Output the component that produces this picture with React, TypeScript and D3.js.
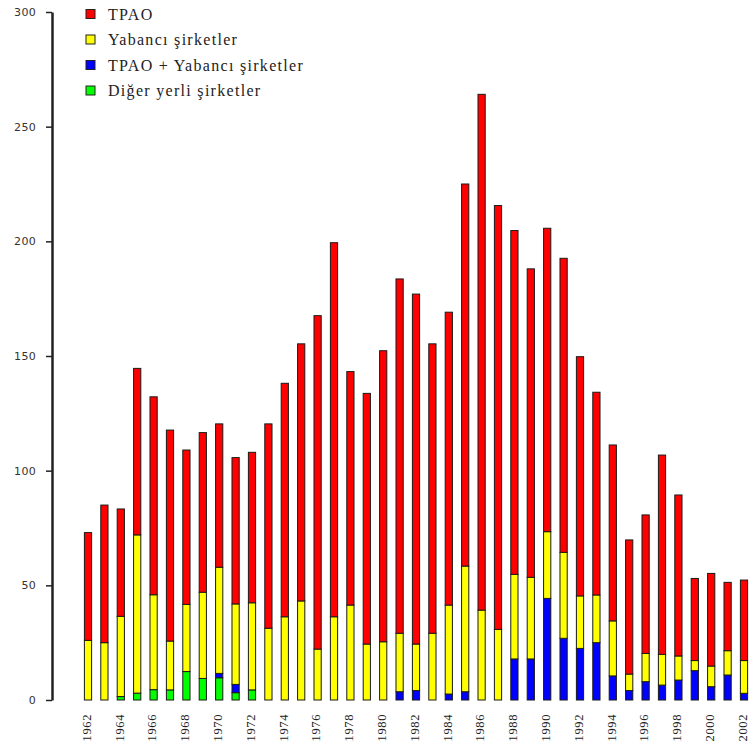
import React, { useEffect, useRef } from "react";
import * as d3 from "d3";

const years = d3.range(1962, 2003).map(String);
// Segment heights (stacked bottom → top: diğer, ortak, yabancı, tpao)
const diger = [0, 0, 1.5, 3, 4.5, 4.4, 12.4, 9.4, 9.7, 3.2, 4.4, 0, 0, 0, 0, 0, 0, 0, 0, 0, 0, 0, 0, 0, 0, 0, 0, 0, 0, 0, 0, 0, 0, 0, 0, 0, 0, 0, 0, 0, 0];
const ortak = [0, 0, 0, 0, 0, 0, 0, 0, 1.9, 3.6, 0, 0, 0, 0, 0, 0, 0, 0, 0, 3.6, 4.1, 0, 2.6, 3.6, 0, 0, 17.9, 17.9, 44.3, 26.9, 22.5, 25, 10.5, 4.1, 8, 6.5, 8.7, 12.8, 5.8, 10.9, 2.9];
const yabanci = [26, 25, 35, 69, 41.4, 21.3, 29.3, 37.6, 46.3, 35.1, 38, 31.3, 36.3, 43.2, 22.2, 36.3, 41.4, 24.4, 25.4, 25.5, 20.3, 29.1, 38.8, 54.8, 39.2, 30.8, 36.9, 35.6, 29.1, 37.5, 22.9, 20.8, 24, 7.2, 12.3, 13.4, 10.5, 4.4, 9, 10.6, 14.3];
const tpao = [47, 60, 46.8, 72.6, 86.3, 92, 67.3, 69.6, 62.5, 63.8, 65.6, 89.1, 101.8, 112.1, 145.4, 163.1, 101.8, 109.3, 126.9, 154.5, 152.6, 126.2, 127.7, 166.6, 224.9, 184.8, 149.9, 134.5, 132.3, 128.2, 104.3, 88.4, 76.7, 58.5, 60.4, 86.9, 70.2, 35.8, 40.4, 29.8, 35.1];

const seriesKeys = ["diger", "ortak", "yabanci", "tpao"];
const seriesColors = ["#00ff00", "#0000ff", "#ffff00", "#ff0000"];
const legendKeys = ["tpao", "yabanci", "ortak", "diger"];
const legendLabels = ["TPAO", "Yabancı şirketler", "TPAO + Yabancı şirketler", "Diğer yerli şirketler"];
const yTicks = [0, 50, 100, 150, 200, 250, 300];

export default function App() {
  const W = 750, H = 750;
  const axisRef = useRef<SVGGElement>(null);
  const rows = years.map((y, i) => ({ year: y, diger: diger[i], ortak: ortak[i], yabanci: yabanci[i], tpao: tpao[i] }));
  const stack = d3.stack<any>().keys(seriesKeys);
  const layers = stack(rows);

  const x = d3.scaleBand<string>().domain(years).range([79.8, 752.2]).paddingInner(0.56).paddingOuter(0.28);
  const y = d3.scaleLinear().domain([0, 300]).range([700, 12]);
  const color = d3.scaleOrdinal<string, string>().domain(seriesKeys).range(seriesColors);
  const axisX = 52;

  useEffect(() => {
    if (!axisRef.current) return;
    const g = d3.select(axisRef.current);
    g.selectAll("*").remove();
    g.call(d3.axisLeft(y).tickValues(yTicks).tickSize(6).tickSizeOuter(0).tickPadding(10) as any);
    g.select(".domain").attr("stroke", "#222").attr("stroke-width", 2.5);
    g.selectAll(".tick line").attr("stroke", "#222").attr("stroke-width", 1.5);
    g.selectAll(".tick text")
      .attr("font-family", "DejaVu Sans, Verdana, sans-serif")
      .attr("font-size", 11)
      .attr("letter-spacing", 0.3)
      .attr("fill", "#333");
  }, []);

  return (
    <svg width={W} height={H} style={{ position: "absolute", left: 0, top: 0, background: "#fff" }}>
      <rect x={0} y={0} width={W} height={H} fill="#fff" />
      {/* bars */}
      {layers.map((layer) => (
        <g key={layer.key}>
          {layer.map((d, i) =>
            d[1] - d[0] > 0 ? (
              <rect
                key={i}
                x={x(years[i])!}
                y={y(d[1])}
                width={x.bandwidth()}
                height={y(d[0]) - y(d[1])}
                fill={color(layer.key)}
                stroke="#1a1a1a"
                strokeWidth={1}
              />
            ) : null
          )}
        </g>
      ))}
      {/* y axis */}
      <g ref={axisRef} transform={`translate(${axisX},0)`} />
      {/* x labels */}
      {years.map((yr, i) =>
        i % 2 === 0 ? (
          <text
            key={yr}
            transform={`translate(${x(yr)! + x.bandwidth() / 2 - 1},714) rotate(-90)`}
            textAnchor="end"
            dy="0.3em"
            fontFamily="Liberation Serif, Times New Roman, serif"
            fontSize={12.5}
            letterSpacing={0.6}
            fill="#222"
          >
            {yr}
          </text>
        ) : null
      )}
      {/* legend */}
      {legendKeys.map((k, i) => (
        <g key={k} transform={`translate(86,${9.5 + i * 25.5})`}>
          <rect x={0} y={0} width={9} height={9} fill={color(k)} stroke="#222" strokeWidth={1} />
          <text
            x={22}
            y={4.5}
            dy="0.35em"
            fontFamily="Liberation Serif, Times New Roman, serif"
            fontSize={16}
            letterSpacing={1.3}
            fill="#222"
          >
            {legendLabels[i]}
          </text>
        </g>
      ))}
    </svg>
  );
}
